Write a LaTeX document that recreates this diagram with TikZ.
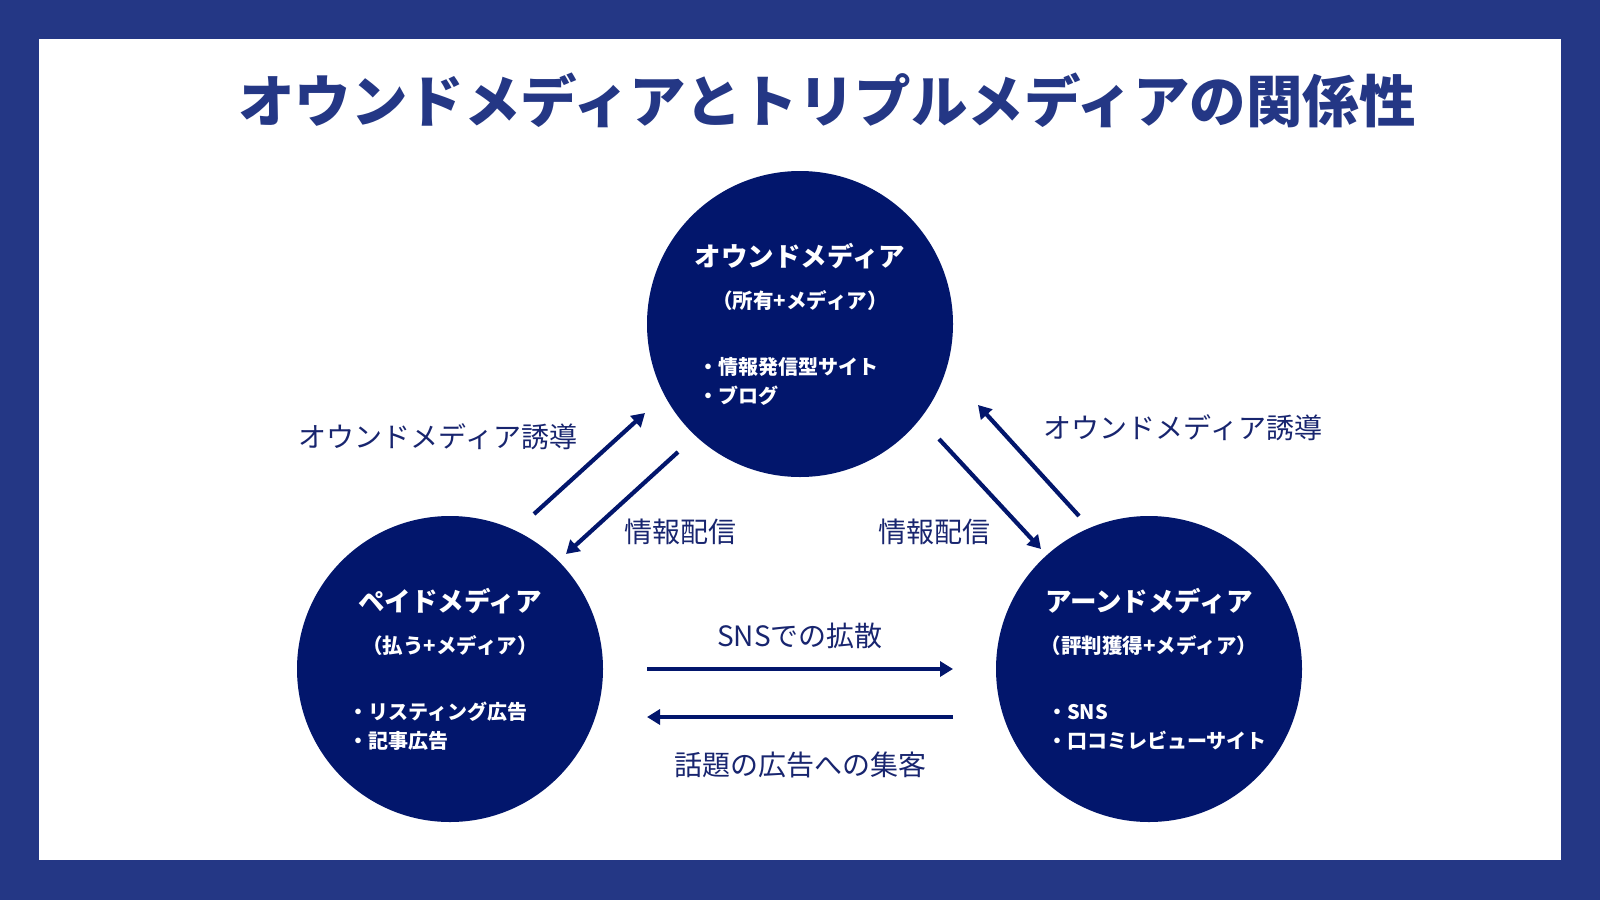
\documentclass[tikz,border=0pt]{standalone}
\usepackage{fontspec}
\setmainfont{Noto Sans CJK JP}
\usetikzlibrary{arrows.meta,calc}
\definecolor{framec}{HTML}{243785}
\definecolor{navyc}{HTML}{02166C}
\definecolor{inkc}{HTML}{18256F}
\tikzset{
 medium/.style={circle, fill=navyc, minimum size=306pt, inner sep=0pt},
 headtxt/.style={text=white, inner sep=0pt, font=\fontsize{26.5}{30}\selectfont\bfseries},
 subtxt/.style={text=white, inner sep=0pt, font=\fontsize{20.5}{24}\selectfont\bfseries},
 itemtxt/.style={text=white, inner sep=0pt, anchor=west, font=\fontsize{20}{24}\selectfont\bfseries},
 flow/.style={draw=navyc, line width=4.2pt, -{Triangle[length=13pt,width=15pt]}},
 lbl/.style={text=inkc, inner sep=0pt, font=\fontsize{28}{32}\selectfont},
}
\begin{document}
\begin{tikzpicture}[x=1pt,y=-1pt]
\fill[framec] (0,0) rectangle (1600,900);
\fill[white] (39,39) rectangle (1561,860);
\useasboundingbox (0,0) rectangle (1600,900);

\node[text=framec, font=\fontsize{56.5}{60}\selectfont\bfseries, inner sep=0pt] (title) at (827,100) {オウンドメディアとトリプルメディアの関係性};

\node[medium] (own) at (800,324) {};
\node[medium] (paid) at (450,669) {};
\node[medium] (earned) at (1149,669) {};

\node[headtxt] (ownH) at ($(own)+(0,-68)$) {オウンドメディア};
\node[subtxt] (ownS) at ($(own)+(0,-23)$) {（所有+メディア）};
\node[itemtxt] (ownA) at ($(own)+(-102,43)$) {・情報発信型サイト};
\node[itemtxt] (ownB) at ($(own)+(-102,72)$) {・ブログ};

\node[headtxt] (paidH) at ($(paid)+(0,-68)$) {ペイドメディア};
\node[subtxt] (paidS) at ($(paid)+(0,-23)$) {（払う+メディア）};
\node[itemtxt] (paidA) at ($(paid)+(-102,43)$) {・リスティング広告};
\node[itemtxt] (paidB) at ($(paid)+(-102,72)$) {・記事広告};

\node[headtxt] (earnH) at ($(earned)+(0,-68)$) {アーンドメディア};
\node[subtxt] (earnS) at ($(earned)+(0,-23)$) {（評判獲得+メディア）};
\node[itemtxt] (earnA) at ($(earned)+(-102,43)$) {・SNS};
\node[itemtxt] (earnB) at ($(earned)+(-102,72)$) {・口コミレビューサイト};

\coordinate (a1s) at (534,514); \coordinate (a1e) at (645,413);
\coordinate (a2s) at (678,452); \coordinate (a2e) at (566,554);
\coordinate (a3s) at (939,439); \coordinate (a3e) at (1041,549);
\coordinate (a4s) at (1079,516); \coordinate (a4e) at (978,405);
\coordinate (a5s) at (647,669); \coordinate (a5e) at (953,669);
\coordinate (a6s) at (953,717); \coordinate (a6e) at (647,717);

\draw[flow] (a1s) -- (a1e);
\draw[flow] (a2s) -- (a2e);
\draw[flow] (a3s) -- (a3e);
\draw[flow] (a4s) -- (a4e);
\draw[flow] (a5s) -- (a5e);
\draw[flow] (a6s) -- (a6e);

\node[lbl] (l1) at (438,437) {オウンドメディア誘導};
\node[lbl] (l2) at (680,532) {情報配信};
\node[lbl] (l3) at (934,532) {情報配信};
\node[lbl] (l4) at (1183,428) {オウンドメディア誘導};
\node[lbl] (l5) at (800,636) {SNSでの拡散};
\node[lbl] (l6) at (800,765) {話題の広告への集客};
\end{tikzpicture}
\end{document}
